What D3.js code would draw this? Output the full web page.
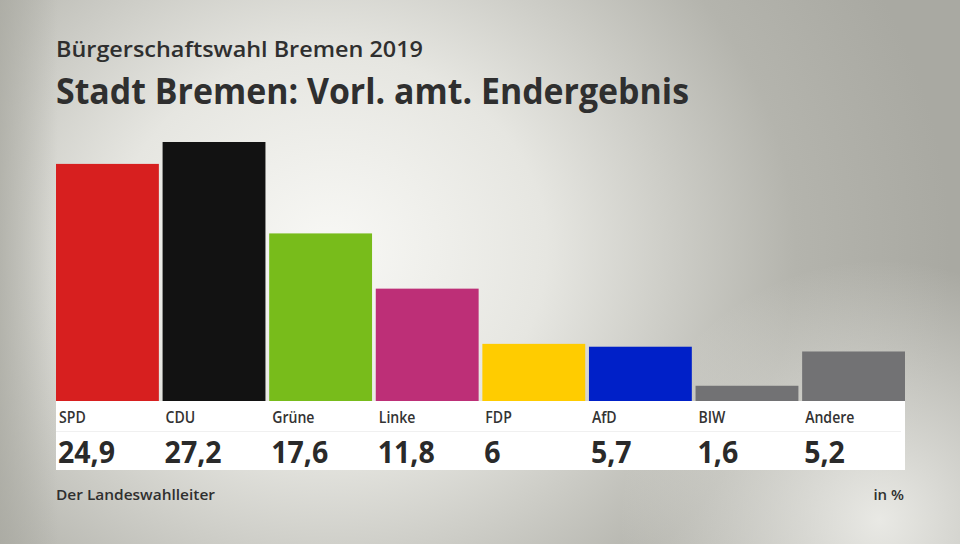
<!DOCTYPE html>
<html><head><meta charset="utf-8">
<script src="https://cdn.jsdelivr.net/npm/d3@7"></script>
<style>html,body{margin:0;padding:0;background:#fff;}svg{display:block;}</style>
</head><body>
<svg id="chart" width="960" height="544"></svg>
<script>
const categories = ["SPD","CDU","Grüne","Linke","FDP","AfD","BIW","Andere"];
const values = [24.9,27.2,17.6,11.8,6,5.7,1.6,5.2];
const valueLabels = ["24,9","27,2","17,6","11,8","6","5,7","1,6","5,2"];
const colors = ["#d71f1f","#121212","#78bc1b","#bd2f77","#ffcc00","#0020c8","#727274","#727274"];
const subtitle = "Bürgerschaftswahl Bremen 2019";
const title = "Stadt Bremen: Vorl. amt. Endergebnis";
const source = "Der Landeswahlleiter";
const unit = "in %";

const svg = d3.select("#chart");
const W = 960, H = 544;
const font = "'Open Sans', 'Noto Sans', sans-serif";

// background
const defs = svg.append("defs");
const g1 = defs.append("radialGradient").attr("id","bg1")
  .attr("gradientUnits","userSpaceOnUse").attr("cx",330).attr("cy",250).attr("r",620)
  .attr("gradientTransform","translate(330,250) scale(1,0.9) translate(-330,-250)");
g1.append("stop").attr("offset","0").attr("stop-color","#f8f8f5");
g1.append("stop").attr("offset","0.35").attr("stop-color","#e6e6e1");
g1.append("stop").attr("offset","0.75").attr("stop-color","#b4b4ad");
g1.append("stop").attr("offset","1").attr("stop-color","#a9a9a2");
const g2 = defs.append("radialGradient").attr("id","bg2")
  .attr("gradientUnits","userSpaceOnUse").attr("cx",880).attr("cy",520).attr("r",260);
g2.append("stop").attr("offset","0").attr("stop-color","#f0f0ec").attr("stop-opacity",0.9);
g2.append("stop").attr("offset","1").attr("stop-color","#f0f0ec").attr("stop-opacity",0);
const g3 = defs.append("linearGradient").attr("id","bg3").attr("x1",0).attr("x2",1).attr("y1",0).attr("y2",0);
g3.append("stop").attr("offset","0").attr("stop-color","#a8a8a0").attr("stop-opacity",0.7);
g3.append("stop").attr("offset","0.06").attr("stop-color","#a8a8a0").attr("stop-opacity",0);
svg.append("rect").attr("width",W).attr("height",H).attr("fill","url(#bg1)");
svg.append("rect").attr("width",W).attr("height",H).attr("fill","url(#bg2)");
svg.append("rect").attr("width",W).attr("height",H).attr("fill","url(#bg3)");

// titles
svg.append("text").attr("x",56).attr("y",57).text(subtitle)
  .attr("font-family",font).attr("font-weight",600).attr("font-size",21).attr("fill","#2f2f2f")
  .attr("textLength",367).attr("lengthAdjust","spacingAndGlyphs");
svg.append("text").attr("x",56).attr("y",104).text(title)
  .attr("font-family",font).attr("font-weight",700).attr("font-size",36).attr("fill","#2f2f2f")
  .attr("textLength",633).attr("lengthAdjust","spacingAndGlyphs");

// scales
const x = d3.scaleBand().domain(categories).range([56,905]).paddingInner(0.035).paddingOuter(0);
const y = d3.scaleLinear().domain([0,27.2]).range([401,142]);

svg.append("g").selectAll("rect").data(categories).join("rect")
  .attr("x",d=>x(d)).attr("width",x.bandwidth())
  .attr("y",(d,i)=>y(values[i])).attr("height",(d,i)=>y(0)-y(values[i]))
  .attr("fill",(d,i)=>colors[i]);

// label box
svg.append("rect").attr("x",56).attr("y",401).attr("width",849).attr("height",69).attr("fill","#ffffff");
svg.append("line").attr("x1",56).attr("x2",901).attr("y1",431.5).attr("y2",431.5).attr("stroke","#f0f0f0").attr("stroke-width",1);

svg.append("g").selectAll("text").data(categories).join("text")
  .attr("x",d=>x(d)+3).attr("y",423).text(d=>d)
  .attr("font-family",font).attr("font-weight",600).attr("font-size",16).attr("fill","#333")
  .attr("transform",d=>`translate(${x(d)+3},0) scale(0.88,1) translate(${-(x(d)+3)},0)`);

svg.append("g").selectAll("text").data(categories).join("text")
  .attr("x",d=>x(d)+2).attr("y",463).text((d,i)=>valueLabels[i])
  .attr("font-family",font).attr("font-weight",700).attr("font-size",31).attr("fill","#2a2a2a")
  .attr("transform",d=>`translate(${x(d)+2},0) scale(0.92,1) translate(${-(x(d)+2)},0)`);

// footer
svg.append("text").attr("x",56).attr("y",500).text(source)
  .attr("font-family",font).attr("font-weight",600).attr("font-size",15).attr("fill","#2f2f2f")
  .attr("textLength",159).attr("lengthAdjust","spacingAndGlyphs");
svg.append("text").attr("x",904).attr("y",500).attr("text-anchor","end").text(unit)
  .attr("font-family",font).attr("font-weight",600).attr("font-size",15).attr("fill","#2f2f2f");
</script>
</body></html>
